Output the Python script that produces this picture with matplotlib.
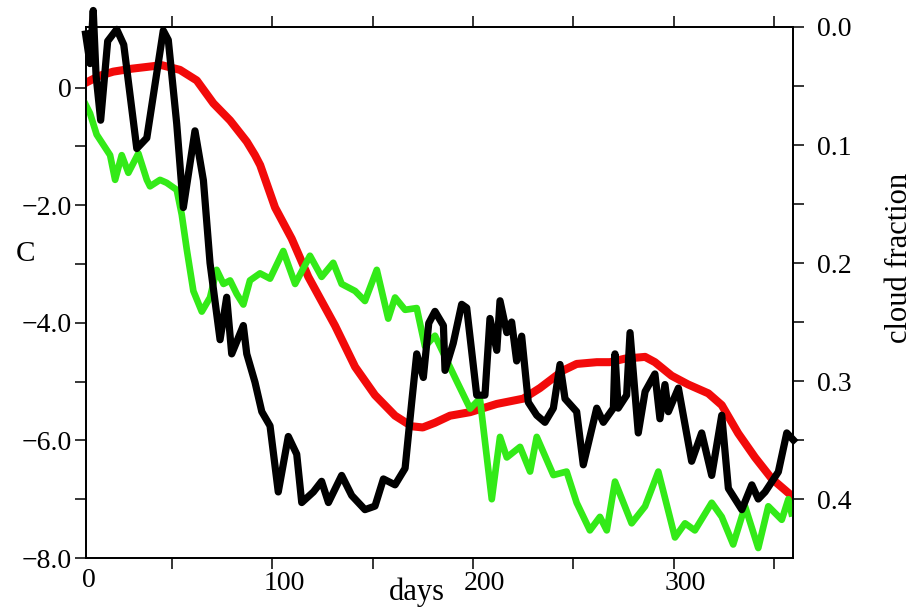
import matplotlib
matplotlib.use("Agg")
import matplotlib.pyplot as plt
from matplotlib.transforms import ScaledTranslation
from matplotlib.ticker import FixedLocator, FuncFormatter

plt.rcParams['font.family'] = ['Liberation Serif', 'DejaVu Serif']

# red: smooth temperature curve (C)
red_days = [7.6, 14, 20.8, 30, 37.5, 44.9, 54, 62.4, 70.7, 79, 87.3, 91.4, 94,
            101.4, 109.7, 118, 131.3, 141.3, 151.2, 161.2, 169.5, 175, 181.1,
            188.6, 198.6, 211.9, 225.1, 233.4, 245, 251.7, 261.7, 268.3, 275.8,
            285.8, 290.7, 299, 307.3, 317.3, 324, 332.2, 340.6, 348.9, 358.8]
red_c = [0.09, 0.2, 0.27, 0.32, 0.35, 0.38, 0.30, 0.12, -0.27, -0.56, -0.92, -1.15, -1.32,
         -2.04, -2.57, -3.22, -4.05, -4.75, -5.23, -5.58, -5.76, -5.78, -5.70,
         -5.58, -5.52, -5.38, -5.29, -5.11, -4.81, -4.70, -4.67, -4.67, -4.61,
         -4.58, -4.67, -4.90, -5.05, -5.20, -5.40, -5.88, -6.29, -6.65, -6.94]

# green: noisy temperature curve (C)
green_days = [6.7, 9.2, 12.5, 19.2, 21.7, 25.0, 28.3, 33.3, 37.5, 39.1, 44.1, 47.4,
              52.4, 54.9, 57.4, 60.7, 64.9, 69.0, 72.3, 75.7, 79.0, 82.3, 85.6, 88.9,
              93.9, 98.9, 105.5, 111.4, 118.8, 124.6, 130.4, 134.6, 141.3, 146.2,
              152.1, 157.8, 161.2, 166.2, 172.0, 176.1, 181.1, 185.3, 191.9, 198.6,
              203.5, 209.4, 213.5, 216.9, 223.5, 228.5, 231.8, 240.1, 246.7, 251.7,
              258.3, 263.3, 266.7, 270.8, 279.1, 285.8, 292.4, 300.7, 305.7, 310.6,
              319.0, 324.0, 329.7, 335.6, 342.2, 347.2, 353.9, 357.2, 358.8]
green_c = [-0.27, -0.44, -0.80, -1.15, -1.57, -1.15, -1.45, -1.12, -1.57, -1.68, -1.57, -1.62,
           -1.74, -2.16, -2.75, -3.46, -3.81, -3.57, -3.10, -3.34, -3.28, -3.51, -3.69, -3.28,
           -3.16, -3.25, -2.78, -3.34, -2.86, -3.22, -2.98, -3.34, -3.46, -3.63,
           -3.10, -3.93, -3.57, -3.78, -3.75, -4.40, -4.22, -4.52, -4.99, -5.46,
           -5.29, -7.00, -5.94, -6.29, -6.11, -6.53, -5.94, -6.59, -6.53, -7.06,
           -7.53, -7.30, -7.53, -6.70, -7.41, -7.12, -6.53, -7.65, -7.41, -7.53,
           -7.06, -7.30, -7.77, -7.12, -7.83, -7.12, -7.35, -7.00, -7.24]

# black: cloud fraction (right axis, inverted)
black_days = [7.0, 9.2, 10.8, 12.2, 14.5, 18.0, 22.5, 26.0, 32.5, 37.5, 45.7, 48.2,
              52.4, 55.7, 61.5, 65.7, 69.0, 74.0, 77.3, 79.8, 85.6, 87.3, 91.4, 94.8,
              98.9, 103.0, 108.0, 112.2, 114.7, 120.5, 124.6, 128.0, 134.6, 139.6,
              146.2, 151.2, 155.4, 161.2, 166.2, 169.5, 172.0, 175.3, 178.0, 181.1,
              185.3, 186.1, 190.2, 194.4, 196.9, 201.9, 206.0, 208.5, 211.9, 213.5,
              216.9, 219.3, 221.8, 224.3, 227.6, 231.8, 235.9, 240.1, 243.4, 245.9,
              251.7, 255.0, 261.7, 265.0, 270.0, 270.8, 272.4, 276.6, 278.3, 282.4,
              285.8, 290.7, 293.2, 295.7, 297.4, 302.4, 309.0, 314.0, 319.0, 324.0,
              327.3, 334.0, 339.0, 342.2, 345.6, 352.2, 356.4, 359.7]
black_cf = [0.006, 0.031, -0.014, 0.041, 0.079, 0.012, 0.002, 0.015, 0.103, 0.094, 0.003, 0.011,
            0.082, 0.153, 0.088, 0.130, 0.200, 0.265, 0.229, 0.277, 0.253, 0.277, 0.301, 0.326,
            0.338, 0.394, 0.347, 0.362, 0.403, 0.394, 0.385, 0.403, 0.380, 0.397,
            0.409, 0.406, 0.383, 0.388, 0.374, 0.318, 0.277, 0.297, 0.251, 0.241,
            0.253, 0.291, 0.268, 0.235, 0.238, 0.312, 0.312, 0.247, 0.274, 0.232,
            0.259, 0.250, 0.283, 0.262, 0.318, 0.329, 0.335, 0.323, 0.286, 0.315,
            0.326, 0.371, 0.323, 0.335, 0.323, 0.277, 0.323, 0.312, 0.259, 0.344,
            0.309, 0.294, 0.332, 0.303, 0.326, 0.306, 0.368, 0.344, 0.380, 0.329,
            0.391, 0.409, 0.388, 0.400, 0.394, 0.377, 0.344, 0.350]

fig = plt.figure(figsize=(9.16, 6.08), dpi=100)
ax = fig.add_axes([0.0939, 0.0822, 0.7718, 0.8734])
ax2 = ax.twinx()

ax.plot(red_days, red_c, color='#f20a0a', lw=5.8, zorder=2)
ax.plot(green_days, green_c, color='#33ea18', lw=4.8, zorder=3)
ax2.plot(black_days, black_cf, color='black', lw=5.2, clip_on=False)

ax.set_xlim(7.2, 359.5)
ax.set_ylim(-8, 1.029)
ax2.set_ylim(0.45, 0.0)

fs = 20
ax.xaxis.set_major_locator(FixedLocator([100, 200, 300]))
ax.xaxis.set_minor_locator(FixedLocator([50, 150, 250, 350]))
ax.yaxis.set_major_locator(FixedLocator([0, -2, -4, -6, -8]))
ax.yaxis.set_minor_locator(FixedLocator([-1, -3, -5, -7]))
ax.yaxis.set_major_formatter(FuncFormatter(lambda v, p: '0' if v == 0 else '\u2212%.1f' % abs(v)))
ax2.yaxis.set_major_locator(FixedLocator([0.0, 0.1, 0.2, 0.3, 0.4]))
ax2.yaxis.set_minor_locator(FixedLocator([0.05, 0.15, 0.25, 0.35]))
ax2.yaxis.set_major_formatter(FuncFormatter(lambda v, p: '%.1f' % v))

ax.tick_params(axis='both', which='both', direction='out', length=8, width=1.1,
               labelsize=fs, top=True)
ax.tick_params(axis='x', pad=1)
ax.tick_params(axis='y', pad=2.5)
ax2.tick_params(axis='y', which='both', direction='out', length=8, width=1.1,
                labelsize=fs, pad=9)

for lab in ax.get_xticklabels():
    lab.set_transform(lab.get_transform() + ScaledTranslation(0.12, 0, fig.dpi_scale_trans))

for a in (ax, ax2):
    for s in a.spines.values():
        s.set_linewidth(1.3)

ax.text(8.5, -8.0, '0', fontsize=fs, ha='center', va='top',
        transform=ax.transData + ScaledTranslation(0, -0.1, fig.dpi_scale_trans))

ax.set_xlabel('days', fontsize=22, va='center', ha='center')
ax.xaxis.set_label_coords(0.468, -0.064)
ax.set_ylabel('C', fontsize=21, rotation=0, va='center', ha='center')
ax.yaxis.set_label_coords(-0.085, 0.572)
ax2.set_ylabel('cloud fraction', fontsize=22, rotation=90, va='center', ha='center')
ax2.yaxis.set_label_coords(1.151, 0.565)

fig.savefig('out.png', dpi=100)
